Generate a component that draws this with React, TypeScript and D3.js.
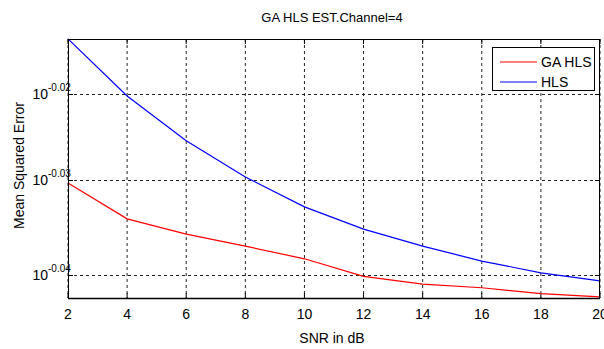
import React from "react";
import * as d3 from "d3";

const snr = [2, 4, 6, 8, 10, 12, 14, 16, 18, 20];
const hls = [0.9692, 0.9545, 0.9431, 0.934, 0.9272, 0.9222, 0.9184, 0.9151, 0.9125, 0.9107];
const gaHls = [0.9326, 0.9245, 0.9211, 0.9184, 0.9156, 0.9117, 0.91, 0.9092, 0.9079, 0.9072];
const xTicks = [2, 4, 6, 8, 10, 12, 14, 16, 18, 20];
const yTickExps = ["-0.02", "-0.03", "-0.04"];
const seriesNames = ["GA HLS", "HLS"];
const seriesColors = ["#ff0000", "#0000ff"];

const W = 604, H = 349;
const L = 68, R = 600, T = 39, B = 298;
const font = "'Liberation Sans', Arial, sans-serif";

export default function App() {
  const x = d3.scaleLinear().domain([2, 20]).range([L, R]);
  const ph = B - T;
  // polylinear log scale matching the reference's tick spacing
  const y = d3
    .scaleLog()
    .domain([Math.pow(10, -0.0136), Math.pow(10, -0.02), Math.pow(10, -0.03), Math.pow(10, -0.04), Math.pow(10, -0.04242)])
    .range([T, T + ph * 0.2124, T + ph * 0.5444, T + ph * 0.9112, B]);

  const line = d3
    .line<number>()
    .x((_, i) => x(snr[i]))
    .y((d) => y(d));

  const series = [gaHls, hls];
  const dash = "3,3";

  return (
    <svg width={W} height={H} style={{ position: "absolute", left: 0, top: 0, background: "#fff" }} fontFamily={font}>
      <rect x={0} y={0} width={W} height={H} fill="#fff" />
      {/* grid */}
      {xTicks.map((t) => (
        <g key={"xg" + t}>
          <line x1={x(t)} x2={x(t)} y1={T} y2={B} stroke="#222" strokeDasharray={dash} strokeWidth={1} />
          <line x1={x(t)} x2={x(t)} y1={B} y2={B - 5} stroke="#000" />
          <line x1={x(t)} x2={x(t)} y1={T} y2={T + 5} stroke="#000" />
          <text x={x(t)} y={B + 21} fontSize={14} textAnchor="middle" fill="#000">{t}</text>
        </g>
      ))}
      {yTickExps.map((e) => {
        const yy = Math.round(y(Math.pow(10, +e))) + 0.5;
        return (
          <g key={"yg" + e}>
            <line x1={L} x2={R} y1={yy} y2={yy} stroke="#222" strokeDasharray={dash} />
            <line x1={L} x2={L + 5} y1={yy} y2={yy} stroke="#000" />
            <line x1={R - 5} x2={R} y1={yy} y2={yy} stroke="#000" />
            <text x={48} y={yy + 4.5} fontSize={14} textAnchor="end" fill="#000">10</text>
            <text x={48} y={yy - 4} fontSize={10} textAnchor="start" fill="#000">{e}</text>
          </g>
        );
      })}
      {/* lines */}
      {series.map((s, i) => (
        <path key={i} d={line(s) || ""} fill="none" stroke={seriesColors[i]} strokeWidth={1.2} />
      ))}
      {/* frame */}
      <rect x={L + 0.5} y={T + 0.5} width={R - L - 1} height={B - T} fill="none" stroke="#000" strokeWidth={1} />
      <line x1={L} x2={R} y1={B + 0.5} y2={B + 0.5} stroke="#000" strokeWidth={1.5} />
      {/* legend */}
      <rect x={492.5} y={47.5} width={102} height={43} fill="#fff" stroke="#000" />
      {seriesNames.map((n, i) => (
        <g key={n}>
          <line x1={500} x2={537} y1={62 + i * 20} y2={62 + i * 20} stroke={seriesColors[i]} strokeWidth={1.2} />
          <text x={541} y={67 + i * 20} fontSize={14} fill="#000">{n}</text>
        </g>
      ))}
      {/* titles */}
      <text x={332} y={22} fontSize={13} textAnchor="middle" fill="#000">GA HLS EST.Channel=4</text>
      <text x={332} y={343} fontSize={14} textAnchor="middle" fill="#000">SNR in dB</text>
      <text transform={`translate(24,${(T + B) / 2 - 3}) rotate(-90)`} fontSize={14} textAnchor="middle" fill="#000">Mean Squared Error</text>
    </svg>
  );
}
